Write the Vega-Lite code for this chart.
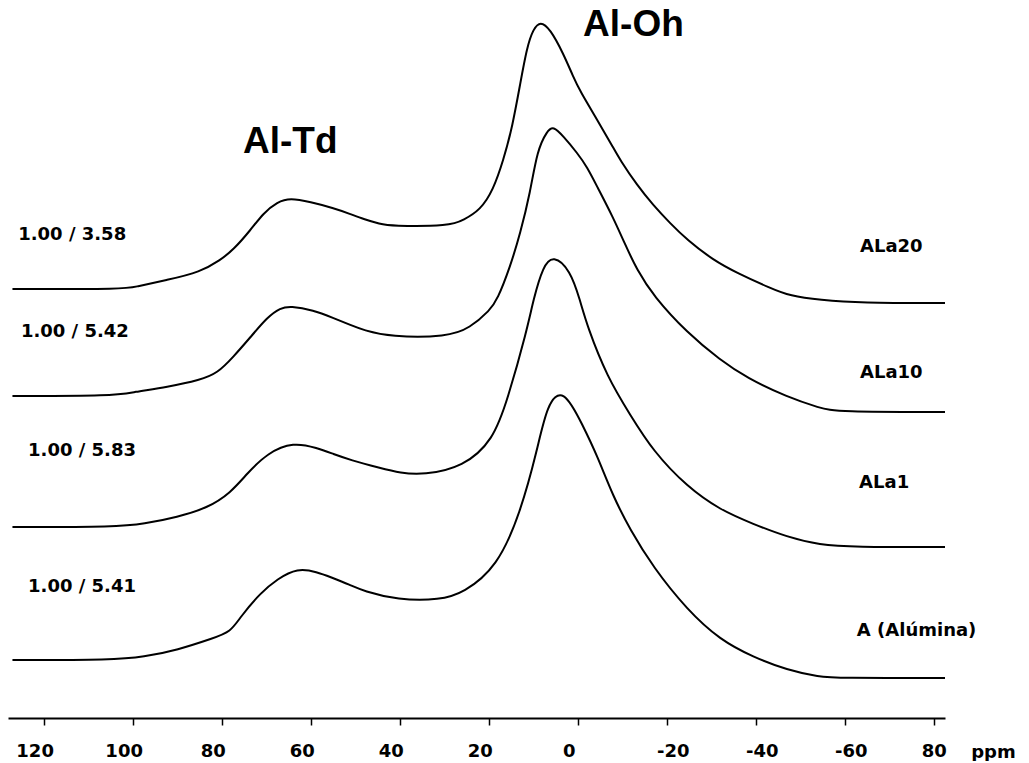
{
  "$schema": "https://vega.github.io/schema/vega-lite/v6.json",
  "width": 937,
  "height": 718,
  "padding": {"left": 8, "top": 0, "right": 0, "bottom": 0},
  "background": "white",
  "config": {"view": {"stroke": null}},
  "datasets": {
    "spectra": [
      {"sample": "ALa20", "ppm": 127, "intensity": 429},
      {"sample": "ALa20", "ppm": 101.1, "intensity": 429},
      {"sample": "ALa20", "ppm": 99.8, "intensity": 431},
      {"sample": "ALa20", "ppm": 92.2, "intensity": 438},
      {"sample": "ALa20", "ppm": 84.8, "intensity": 446},
      {"sample": "ALa20", "ppm": 80.3, "intensity": 458},
      {"sample": "ALa20", "ppm": 77.4, "intensity": 468},
      {"sample": "ALa20", "ppm": 73.5, "intensity": 488},
      {"sample": "ALa20", "ppm": 70.6, "intensity": 505},
      {"sample": "ALa20", "ppm": 67.5, "intensity": 516},
      {"sample": "ALa20", "ppm": 64.6, "intensity": 520},
      {"sample": "ALa20", "ppm": 60.1, "intensity": 516},
      {"sample": "ALa20", "ppm": 54.9, "intensity": 510},
      {"sample": "ALa20", "ppm": 51.1, "intensity": 504},
      {"sample": "ALa20", "ppm": 48.2, "intensity": 499},
      {"sample": "ALa20", "ppm": 44.4, "intensity": 494},
      {"sample": "ALa20", "ppm": 42.1, "intensity": 492},
      {"sample": "ALa20", "ppm": 28.6, "intensity": 492},
      {"sample": "ALa20", "ppm": 25.7, "intensity": 498},
      {"sample": "ALa20", "ppm": 21.9, "intensity": 508},
      {"sample": "ALa20", "ppm": 19.0, "intensity": 528},
      {"sample": "ALa20", "ppm": 16.7, "intensity": 558},
      {"sample": "ALa20", "ppm": 14.7, "intensity": 591},
      {"sample": "ALa20", "ppm": 12.9, "intensity": 635},
      {"sample": "ALa20", "ppm": 11.4, "intensity": 671},
      {"sample": "ALa20", "ppm": 10.0, "intensity": 689},
      {"sample": "ALa20", "ppm": 8.4, "intensity": 697},
      {"sample": "ALa20", "ppm": 6.2, "intensity": 689},
      {"sample": "ALa20", "ppm": 3.3, "intensity": 665},
      {"sample": "ALa20", "ppm": 1.0, "intensity": 641},
      {"sample": "ALa20", "ppm": -0.5, "intensity": 627},
      {"sample": "ALa20", "ppm": -4.4, "intensity": 598},
      {"sample": "ALa20", "ppm": -7.9, "intensity": 571},
      {"sample": "ALa20", "ppm": -9.5, "intensity": 558},
      {"sample": "ALa20", "ppm": -13.3, "intensity": 533},
      {"sample": "ALa20", "ppm": -16.9, "intensity": 513},
      {"sample": "ALa20", "ppm": -20.7, "intensity": 495},
      {"sample": "ALa20", "ppm": -24.6, "intensity": 478},
      {"sample": "ALa20", "ppm": -30.4, "intensity": 458},
      {"sample": "ALa20", "ppm": -35.8, "intensity": 445},
      {"sample": "ALa20", "ppm": -43.2, "intensity": 430},
      {"sample": "ALa20", "ppm": -47.7, "intensity": 422},
      {"sample": "ALa20", "ppm": -54.4, "intensity": 418},
      {"sample": "ALa20", "ppm": -63.4, "intensity": 415},
      {"sample": "ALa20", "ppm": -82.5, "intensity": 415},

      {"sample": "ALa10", "ppm": 127, "intensity": 322},
      {"sample": "ALa10", "ppm": 104.3, "intensity": 322},
      {"sample": "ALa10", "ppm": 99.8, "intensity": 326},
      {"sample": "ALa10", "ppm": 92.2, "intensity": 331},
      {"sample": "ALa10", "ppm": 84.8, "intensity": 338},
      {"sample": "ALa10", "ppm": 80.9, "intensity": 345},
      {"sample": "ALa10", "ppm": 77.4, "intensity": 361},
      {"sample": "ALa10", "ppm": 73.5, "intensity": 381},
      {"sample": "ALa10", "ppm": 69.7, "intensity": 401},
      {"sample": "ALa10", "ppm": 66.8, "intensity": 410},
      {"sample": "ALa10", "ppm": 64.6, "intensity": 412},
      {"sample": "ALa10", "ppm": 59.4, "intensity": 408},
      {"sample": "ALa10", "ppm": 54.9, "intensity": 400},
      {"sample": "ALa10", "ppm": 51.1, "intensity": 393},
      {"sample": "ALa10", "ppm": 48.2, "intensity": 388},
      {"sample": "ALa10", "ppm": 42.1, "intensity": 381},
      {"sample": "ALa10", "ppm": 29.3, "intensity": 381},
      {"sample": "ALa10", "ppm": 24.2, "intensity": 390},
      {"sample": "ALa10", "ppm": 19.7, "intensity": 408},
      {"sample": "ALa10", "ppm": 18.1, "intensity": 418},
      {"sample": "ALa10", "ppm": 15.2, "intensity": 451},
      {"sample": "ALa10", "ppm": 12.9, "intensity": 485},
      {"sample": "ALa10", "ppm": 10.7, "intensity": 525},
      {"sample": "ALa10", "ppm": 9.1, "intensity": 568},
      {"sample": "ALa10", "ppm": 6.9, "intensity": 587},
      {"sample": "ALa10", "ppm": 5.5, "intensity": 592},
      {"sample": "ALa10", "ppm": 3.3, "intensity": 582},
      {"sample": "ALa10", "ppm": 0.1, "intensity": 565},
      {"sample": "ALa10", "ppm": -2.1, "intensity": 551},
      {"sample": "ALa10", "ppm": -4.4, "intensity": 531},
      {"sample": "ALa10", "ppm": -7.9, "intensity": 501},
      {"sample": "ALa10", "ppm": -10.5, "intensity": 475},
      {"sample": "ALa10", "ppm": -13.3, "intensity": 448},
      {"sample": "ALa10", "ppm": -17.0, "intensity": 422},
      {"sample": "ALa10", "ppm": -24.6, "intensity": 385},
      {"sample": "ALa10", "ppm": -32.0, "intensity": 358},
      {"sample": "ALa10", "ppm": -38.0, "intensity": 340},
      {"sample": "ALa10", "ppm": -47.0, "intensity": 321},
      {"sample": "ALa10", "ppm": -54.4, "intensity": 310},
      {"sample": "ALa10", "ppm": -58.2, "intensity": 306},
      {"sample": "ALa10", "ppm": -82.5, "intensity": 306},

      {"sample": "ALa1", "ppm": 127, "intensity": 191},
      {"sample": "ALa1", "ppm": 103.4, "intensity": 191},
      {"sample": "ALa1", "ppm": 97.6, "intensity": 194},
      {"sample": "ALa1", "ppm": 89.9, "intensity": 201},
      {"sample": "ALa1", "ppm": 83.2, "intensity": 210},
      {"sample": "ALa1", "ppm": 78.0, "intensity": 225},
      {"sample": "ALa1", "ppm": 74.2, "intensity": 245},
      {"sample": "ALa1", "ppm": 69.7, "intensity": 265},
      {"sample": "ALa1", "ppm": 63.9, "intensity": 276},
      {"sample": "ALa1", "ppm": 58.5, "intensity": 270},
      {"sample": "ALa1", "ppm": 54.9, "intensity": 264},
      {"sample": "ALa1", "ppm": 51.1, "intensity": 258},
      {"sample": "ALa1", "ppm": 44.4, "intensity": 250},
      {"sample": "ALa1", "ppm": 39.9, "intensity": 245},
      {"sample": "ALa1", "ppm": 34.7, "intensity": 243},
      {"sample": "ALa1", "ppm": 25.7, "intensity": 251},
      {"sample": "ALa1", "ppm": 19.0, "intensity": 278},
      {"sample": "ALa1", "ppm": 15.8, "intensity": 318},
      {"sample": "ALa1", "ppm": 11.4, "intensity": 388},
      {"sample": "ALa1", "ppm": 10.0, "intensity": 418},
      {"sample": "ALa1", "ppm": 7.8, "intensity": 452},
      {"sample": "ALa1", "ppm": 5.5, "intensity": 463},
      {"sample": "ALa1", "ppm": 1.7, "intensity": 448},
      {"sample": "ALa1", "ppm": -0.5, "intensity": 418},
      {"sample": "ALa1", "ppm": -2.1, "intensity": 392},
      {"sample": "ALa1", "ppm": -6.6, "intensity": 341},
      {"sample": "ALa1", "ppm": -11.8, "intensity": 303},
      {"sample": "ALa1", "ppm": -16.9, "intensity": 267},
      {"sample": "ALa1", "ppm": -24.6, "intensity": 231},
      {"sample": "ALa1", "ppm": -32.0, "intensity": 208},
      {"sample": "ALa1", "ppm": -39.4, "intensity": 194},
      {"sample": "ALa1", "ppm": -47.0, "intensity": 181},
      {"sample": "ALa1", "ppm": -54.4, "intensity": 173},
      {"sample": "ALa1", "ppm": -61.8, "intensity": 171},
      {"sample": "ALa1", "ppm": -82.5, "intensity": 171},

      {"sample": "A", "ppm": 127, "intensity": 58},
      {"sample": "A", "ppm": 104.3, "intensity": 58},
      {"sample": "A", "ppm": 97.6, "intensity": 61},
      {"sample": "A", "ppm": 89.9, "intensity": 68},
      {"sample": "A", "ppm": 81.8, "intensity": 80},
      {"sample": "A", "ppm": 78.0, "intensity": 86},
      {"sample": "A", "ppm": 75.8, "intensity": 101},
      {"sample": "A", "ppm": 71.3, "intensity": 125},
      {"sample": "A", "ppm": 67.5, "intensity": 139},
      {"sample": "A", "ppm": 63.0, "intensity": 150},
      {"sample": "A", "ppm": 58.5, "intensity": 146},
      {"sample": "A", "ppm": 55.6, "intensity": 141},
      {"sample": "A", "ppm": 51.1, "intensity": 133},
      {"sample": "A", "ppm": 48.2, "intensity": 127},
      {"sample": "A", "ppm": 40.5, "intensity": 118},
      {"sample": "A", "ppm": 30.9, "intensity": 118},
      {"sample": "A", "ppm": 25.7, "intensity": 125},
      {"sample": "A", "ppm": 18.1, "intensity": 151},
      {"sample": "A", "ppm": 12.9, "intensity": 205},
      {"sample": "A", "ppm": 9.1, "intensity": 268},
      {"sample": "A", "ppm": 6.9, "intensity": 314},
      {"sample": "A", "ppm": 3.3, "intensity": 331},
      {"sample": "A", "ppm": -1.2, "intensity": 292},
      {"sample": "A", "ppm": -4.4, "intensity": 262},
      {"sample": "A", "ppm": -7.9, "intensity": 222},
      {"sample": "A", "ppm": -11.8, "intensity": 188},
      {"sample": "A", "ppm": -16.9, "intensity": 151},
      {"sample": "A", "ppm": -24.6, "intensity": 108},
      {"sample": "A", "ppm": -32.0, "intensity": 78},
      {"sample": "A", "ppm": -39.4, "intensity": 61},
      {"sample": "A", "ppm": -47.0, "intensity": 48},
      {"sample": "A", "ppm": -54.4, "intensity": 41},
      {"sample": "A", "ppm": -58.2, "intensity": 40},
      {"sample": "A", "ppm": -82.5, "intensity": 40}
    ],
    "smallLabels": [
      {"label": "1.00 / 3.58", "ppm": 125.7, "intensity": 478},
      {"label": "1.00 / 5.42", "ppm": 125.1, "intensity": 381},
      {"label": "1.00 / 5.83", "ppm": 123.5, "intensity": 262},
      {"label": "1.00 / 5.41", "ppm": 123.5, "intensity": 126},
      {"label": "ALa20", "ppm": -63.4, "intensity": 466},
      {"label": "ALa10", "ppm": -63.4, "intensity": 340},
      {"label": "ALa1", "ppm": -63.2, "intensity": 230},
      {"label": "A (Alúmina)", "ppm": -62.7, "intensity": 82}
    ],
    "bigLabels": [
      {"label": "Al-Td", "ppm": 75.2, "intensity": 565},
      {"label": "Al-Oh", "ppm": -1.2, "intensity": 682}
    ]
  },
  "layer": [
    {
      "data": {"name": "spectra"},
      "mark": {"type": "line", "color": "black", "strokeWidth": 2, "interpolate": "basis"},
      "encoding": {
        "x": {
          "field": "ppm", "type": "quantitative",
          "scale": {"domain": [128, -82.5], "nice": false, "zero": false},
          "axis": {
            "values": [120, 100, 80, 60, 40, 20, 0, -20, -40, -60, -80],
            "labelExpr": "datum.value === -80 ? '80' : '' + datum.value",
            "labelFont": "DejaVu Sans", "labelFontWeight": "bold", "labelFontSize": 18, "labelColor": "black",
            "labelPadding": 17,
            "labelOffset": {"condition": [{"test": "datum.value >= 0", "value": -9}, {"test": "datum.value === -80", "value": 0}], "value": 6},
            "labelFlush": false, "labelOverlap": false,
            "domainColor": "black", "domainWidth": 2,
            "tickColor": "black", "tickWidth": 1.5, "tickSize": 7,
            "grid": false,
            "title": "ppm",
            "titleFont": "DejaVu Sans", "titleFontWeight": "bold", "titleFontSize": 18, "titleColor": "black",
            "titleAnchor": null, "titleAlign": "center", "titleBaseline": "alphabetic",
            "titleX": 985, "titleY": 39
          }
        },
        "y": {"field": "intensity", "type": "quantitative", "scale": {"domain": [0, 718], "nice": false, "zero": false}, "axis": null},
        "detail": {"field": "sample"},
        "order": {"field": "ppm", "sort": "descending"}
      }
    },
    {
      "data": {"name": "smallLabels"},
      "mark": {"type": "text", "align": "left", "baseline": "alphabetic", "font": "DejaVu Sans", "fontWeight": "bold", "fontSize": 18, "color": "black"},
      "encoding": {
        "x": {"field": "ppm", "type": "quantitative"},
        "y": {"field": "intensity", "type": "quantitative"},
        "text": {"field": "label"}
      }
    },
    {
      "data": {"name": "bigLabels"},
      "mark": {"type": "text", "align": "left", "baseline": "alphabetic", "font": "Liberation Sans", "fontWeight": "bold", "fontSize": 37, "color": "black"},
      "encoding": {
        "x": {"field": "ppm", "type": "quantitative"},
        "y": {"field": "intensity", "type": "quantitative"},
        "text": {"field": "label"}
      }
    }
  ]
}
